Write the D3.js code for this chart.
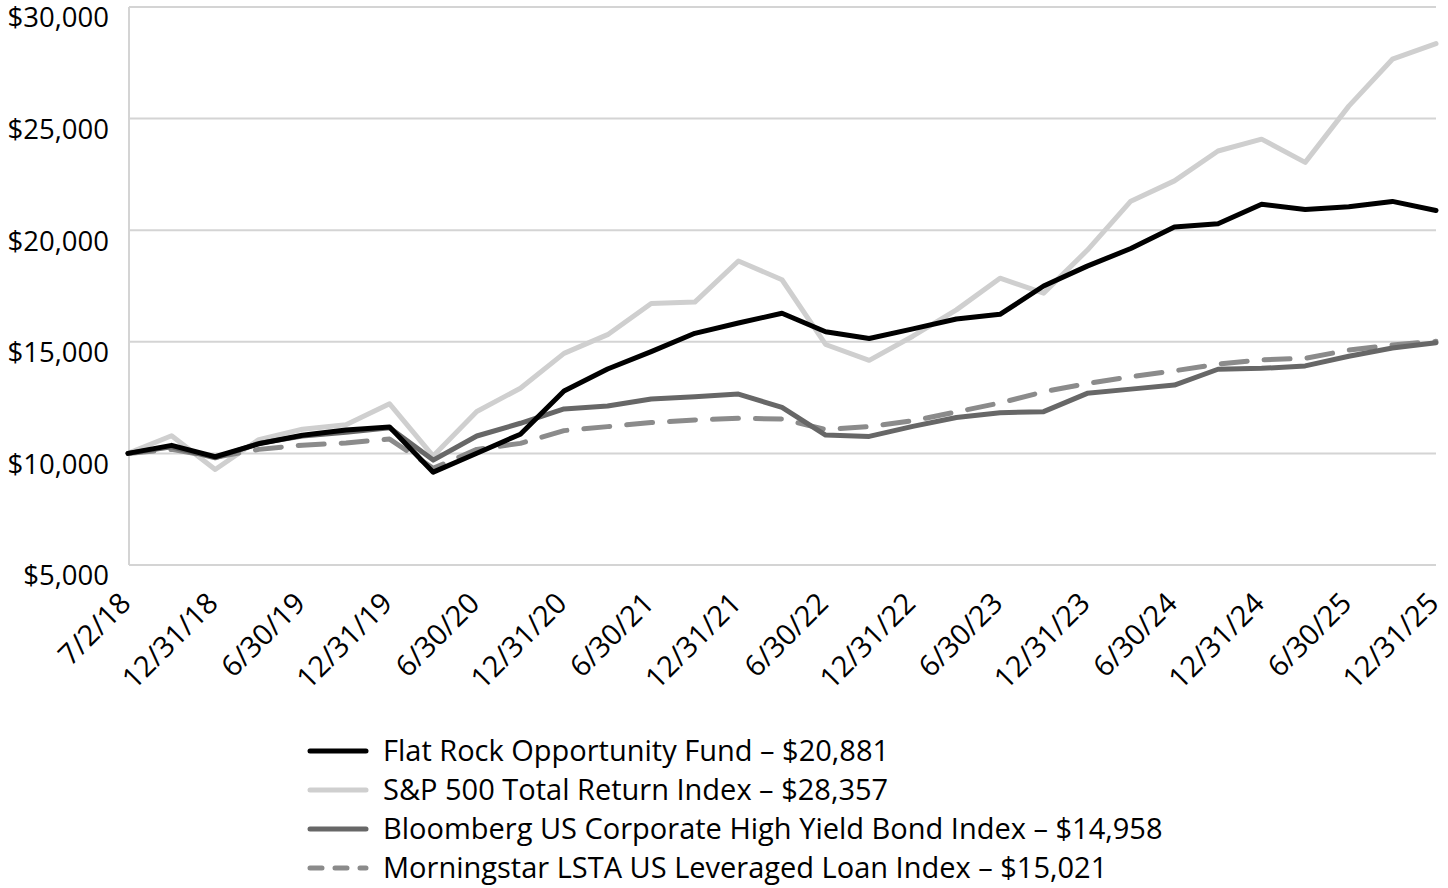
<!DOCTYPE html>
<html>
<head>
<meta charset="utf-8">
<script src="https://cdn.jsdelivr.net/npm/d3@7"></script>
<style>
  html, body { margin: 0; padding: 0; background: #fff; }
  svg { display: block; font-family: "Open Sans", Lato, sans-serif; }
</style>
</head>
<body>
<svg id="chart" width="1448" height="888"></svg>
<script>
const dates = ["7/2/18","9/30/18","12/31/18","3/31/19","6/30/19","9/30/19","12/31/19","3/31/20","6/30/20","9/30/20","12/31/20","3/31/21","6/30/21","9/30/21","12/31/21","3/31/22","6/30/22","9/30/22","12/31/22","3/31/23","6/30/23","9/30/23","12/31/23","3/31/24","6/30/24","9/30/24","12/31/24","3/31/25","6/30/25","9/30/25","12/31/25"];
const tickLabels = ["7/2/18","12/31/18","6/30/19","12/31/19","6/30/20","12/31/20","6/30/21","12/31/21","6/30/22","12/31/22","6/30/23","12/31/23","6/30/24","12/31/24","6/30/25","12/31/25"];
const yTicks = [5000, 10000, 15000, 20000, 25000, 30000];

const fundValues = [10000,10360,9850,10430,10810,11050,11180,9160,10010,10860,12800,13780,14560,15380,15840,16280,15450,15150,15580,16020,16230,17500,18390,19180,20140,20290,21160,20930,21050,21290,20881];
const spValues = [10000,10790,9280,10620,11080,11280,12220,9880,11880,12920,14480,15320,16720,16780,18620,17780,14880,14170,15250,16430,17850,17180,19100,21300,22210,23550,24080,23040,25560,27660,28357];
const hyValues = [10000,10300,9800,10450,10780,10950,11150,9700,10780,11350,11990,12120,12440,12540,12660,12060,10820,10760,11210,11610,11820,11870,12690,12880,13060,13770,13810,13920,14350,14720,14958];
const lstaValues = [10000,10180,9830,10180,10370,10470,10640,9330,10180,10450,11020,11200,11380,11500,11570,11540,11070,11200,11460,11860,12260,12760,13130,13440,13700,14000,14190,14260,14630,14860,15021];

const seriesNames = [
  "Flat Rock Opportunity Fund \u2013 $20,881",
  "S&P 500 Total Return Index \u2013 $28,357",
  "Bloomberg US Corporate High Yield Bond Index \u2013 $14,958",
  "Morningstar LSTA US Leveraged Loan Index \u2013 $15,021"
];

const series = [
  { name: seriesNames[0], values: fundValues, color: "#000000", width: 5, dash: null, legendDash: null },
  { name: seriesNames[1], values: spValues, color: "#cfcfcf", width: 5, dash: null, legendDash: null },
  { name: seriesNames[2], values: hyValues, color: "#676767", width: 5, dash: null, legendDash: null },
  { name: seriesNames[3], values: lstaValues, color: "#8b8b8b", width: 5, dash: "26,17", legendDash: "12,13" }
];

const FONT = "'Open Sans', Lato, sans-serif";
const svg = d3.select("#chart");
const x = d3.scalePoint().domain(dates).range([128, 1436]);
const y = d3.scaleLinear().domain([5000, 30000]).range([565, 7]);

// gridlines
svg.append("g")
  .selectAll("line")
  .data(yTicks)
  .join("line")
  .attr("x1", 129).attr("x2", 1436)
  .attr("y1", d => y(d)).attr("y2", d => y(d))
  .attr("stroke", "#d4d4d4").attr("stroke-width", 2);

// left axis line
svg.append("line")
  .attr("x1", 129).attr("x2", 129)
  .attr("y1", y(30000)).attr("y2", y(5000))
  .attr("stroke", "#d4d4d4").attr("stroke-width", 2);

// y axis labels
const yAxis = d3.axisLeft(y).tickValues(yTicks).tickSize(0).tickPadding(20)
  .tickFormat(d => "$" + d3.format(",")(d));
const gy = svg.append("g").attr("transform", "translate(129,0)").call(yAxis);
gy.select(".domain").remove();
gy.selectAll("text")
  .attr("font-family", FONT)
  .attr("font-size", 27.5)
  .attr("fill", "#000")
  .attr("dy", "0.72em");

// x axis labels
const xAxis = d3.axisBottom(x).tickValues(tickLabels).tickSize(0).tickPadding(0);
const gx = svg.append("g").attr("transform", "translate(0,565)").call(xAxis);
gx.select(".domain").remove();
gx.selectAll("text")
  .attr("font-family", FONT)
  .attr("font-size", 29)
  .attr("fill", "#000")
  .attr("text-anchor", "end")
  .attr("dy", 0)
  .attr("y", 0)
  .attr("transform", "translate(4,40) rotate(-45)");

// lines
const line = d3.line().x((d, i) => x(dates[i])).y(d => y(d));
const drawOrder = [1, 3, 2, 0];
svg.append("g").selectAll("path")
  .data(drawOrder.map(i => series[i]))
  .join("path")
  .attr("d", d => line(d.values))
  .attr("fill", "none")
  .attr("stroke", d => d.color)
  .attr("stroke-width", d => d.width)
  .attr("stroke-linejoin", "round")
  .attr("stroke-linecap", "round")
  .attr("stroke-dasharray", d => d.dash);

// legend
const legendY = d3.scaleLinear().domain([0, 3]).range([751, 868]);
const lg = svg.append("g");
const items = lg.selectAll("g").data(series).join("g")
  .attr("transform", (d, i) => `translate(0,${legendY(i)})`);
items.append("line")
  .attr("x1", 310).attr("x2", 366).attr("y1", 0).attr("y2", 0)
  .attr("stroke", d => d.color)
  .attr("stroke-width", 5)
  .attr("stroke-linecap", "round")
  .attr("stroke-dasharray", d => d.legendDash);
items.append("text")
  .attr("x", 383).attr("y", 0).attr("dy", "0.36em")
  .attr("font-family", FONT)
  .attr("font-size", 29)
  .attr("fill", "#000")
  .text(d => d.name);
</script>
</body>
</html>
